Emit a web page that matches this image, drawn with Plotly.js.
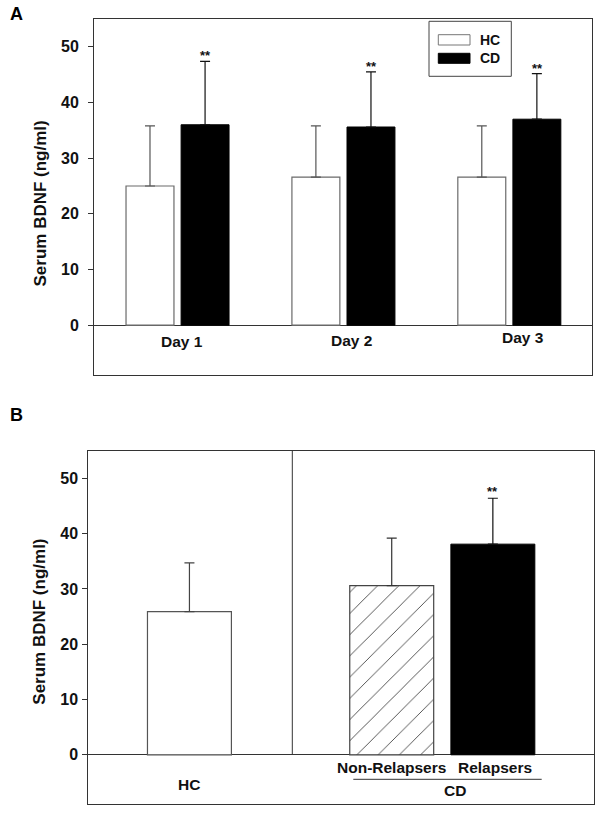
<!DOCTYPE html>
<html>
<head>
<meta charset="utf-8">
<script src="https://cdn.plot.ly/plotly-3.0.1.min.js"></script>
<style>
  html, body { margin: 0; padding: 0; background: #ffffff; }
  #chart { width: 605px; height: 816px; }
</style>
</head>
<body>
<div id="chart"></div>
<script>
// ---------- data ----------
const days = ['Day 1', 'Day 2', 'Day 3'];
const hcMean = [25.0, 26.6, 26.6];
const hcSD = [10.8, 9.2, 9.2];
const cdMean = [36.0, 35.6, 37.0];
const cdSD = [11.4, 9.9, 8.2];
const sigA = ['**', '**', '**'];

const groupsB = ['HC', 'Non-Relapsers', 'Relapsers'];
const meansB = [25.9, 30.6, 38.1];
const sdB = [8.8, 8.6, 8.3];
const sigB = ['', '', '**'];

const yTicks = [0, 10, 20, 30, 40, 50];
const yTitle = 'Serum BDNF (ng/ml)';
const legendNames = ['HC', 'CD'];
const sectionB = 'CD';

// ---------- helpers ----------
const W = 605, H = 816;
const px = x => x / W;
const py = y => 1 - y / H;
const FAM = 'Liberation Sans, Arial, Helvetica, sans-serif';
const bold = (size, color) => ({ family: FAM, size: size, color: color || '#111', weight: 'bold' });
const zeros = a => a.map(() => 0);

// ---------- traces ----------
const traces = [
  {
    type: 'bar', x: days, y: hcMean, xaxis: 'x', yaxis: 'y', name: legendNames[0],
    width: 0.289, offset: -0.307,
    marker: { color: '#ffffff', line: { color: '#6a6a6a', width: 1.2 } },
    error_y: { type: 'data', array: hcSD, arrayminus: zeros(hcSD), symmetric: false,
               color: '#555555', thickness: 1.2, width: 5 },
    showlegend: false, hoverinfo: 'skip'
  },
  {
    type: 'bar', x: days, y: cdMean, xaxis: 'x', yaxis: 'y', name: legendNames[1],
    width: 0.289, offset: 0.025,
    marker: { color: '#000000', line: { color: '#000000', width: 1 } },
    error_y: { type: 'data', array: cdSD, arrayminus: zeros(cdSD), symmetric: false,
               color: '#111111', thickness: 1.2, width: 5 },
    showlegend: false, hoverinfo: 'skip'
  },
  {
    type: 'bar', x: [groupsB[0]], y: [meansB[0]], xaxis: 'x2', yaxis: 'y2',
    width: 0.83,
    marker: { color: '#ffffff', line: { color: '#555555', width: 1.2 } },
    error_y: { type: 'data', array: [sdB[0]], arrayminus: [0], symmetric: false,
               color: '#444444', thickness: 1.2, width: 5 },
    showlegend: false, hoverinfo: 'skip'
  },
  {
    type: 'bar', x: [groupsB[1]], y: [meansB[1]], xaxis: 'x2', yaxis: 'y2',
    width: 0.83,
    marker: { color: '#ffffff', line: { color: '#444444', width: 1.2 },
              pattern: { shape: '/', size: 15, solidity: 0.06, fgcolor: '#444444', bgcolor: '#ffffff', fillmode: 'replace' } },
    error_y: { type: 'data', array: [sdB[1]], arrayminus: [0], symmetric: false,
               color: '#333333', thickness: 1.2, width: 5 },
    showlegend: false, hoverinfo: 'skip'
  },
  {
    type: 'bar', x: [groupsB[2]], y: [meansB[2]], xaxis: 'x2', yaxis: 'y2',
    width: 0.83,
    marker: { color: '#000000', line: { color: '#000000', width: 1 } },
    error_y: { type: 'data', array: [sdB[2]], arrayminus: [0], symmetric: false,
               color: '#111111', thickness: 1.2, width: 5 },
    showlegend: false, hoverinfo: 'skip'
  }
];

// ---------- axes ----------
const yAxisBase = {
  range: [-8.95, 55], tickvals: yTicks, ticktext: yTicks.map(String),
  ticks: 'outside', ticklen: 5, tickwidth: 1, tickcolor: '#333333',
  showline: true, linecolor: '#333333', linewidth: 1, mirror: true,
  showgrid: false, zeroline: true, zerolinecolor: '#333333', zerolinewidth: 1,
  tickfont: bold(16, '#111111'), fixedrange: true
};
const xAxisBase = {
  type: 'category', showline: true, linecolor: '#333333', linewidth: 1, mirror: true,
  showgrid: false, zeroline: false, ticks: '', showticklabels: false, fixedrange: true
};

const layout = {
  width: W, height: H,
  margin: { l: 0, r: 0, t: 0, b: 0, pad: 0 },
  paper_bgcolor: '#ffffff', plot_bgcolor: '#ffffff',
  barmode: 'overlay',
  showlegend: false,
  xaxis: Object.assign({}, xAxisBase, {
    domain: [px(94), px(591.7)], anchor: 'y',
    categoryorder: 'array', categoryarray: days, range: [-0.5, 2.5]
  }),
  yaxis: Object.assign({}, yAxisBase, {
    domain: [py(375), py(19)], anchor: 'x', ticklabelstandoff: 6
  }),
  xaxis2: Object.assign({}, xAxisBase, {
    domain: [px(88.3), px(594)], anchor: 'y2',
    categoryorder: 'array', categoryarray: [groupsB[0], ' ', groupsB[1], groupsB[2]], range: [-1, 4]
  }),
  yaxis2: Object.assign({}, yAxisBase, {
    domain: [py(804.3), py(450.7)], anchor: 'x2', ticklabelstandoff: 1
  }),
  shapes: [],
  annotations: []
};

// panel letters
layout.annotations.push(
  { text: 'A', xref: 'paper', yref: 'paper', x: px(16.3), y: py(14.2), showarrow: false,
    xanchor: 'center', yanchor: 'middle', font: bold(18, '#000') },
  { text: 'B', xref: 'paper', yref: 'paper', x: px(16.3), y: py(414.8), showarrow: false,
    xanchor: 'center', yanchor: 'middle', font: bold(18, '#000') }
);

// y titles
layout.annotations.push(
  { text: yTitle, xref: 'paper', yref: 'paper', x: px(40), y: py(203.5), textangle: -90,
    showarrow: false, xanchor: 'center', yanchor: 'middle', font: bold(17, '#111') },
  { text: yTitle, xref: 'paper', yref: 'paper', x: px(38.7), y: py(622), textangle: -90,
    showarrow: false, xanchor: 'center', yanchor: 'middle', font: bold(17, '#111') }
);

// panel A category labels
const dayShift = [5, 9, 14];
const dayY = [341.7, 340, 337.8];
days.forEach((d, i) => {
  layout.annotations.push({
    text: d, xref: 'x', yref: 'paper', x: d, y: py(dayY[i]), xshift: dayShift[i],
    showarrow: false, xanchor: 'center', yanchor: 'middle', font: bold(15.5, '#111')
  });
});

// significance stars panel A (above CD error bars)
days.forEach((d, i) => {
  if (!sigA[i]) return;
  layout.annotations.push({
    text: sigA[i], xref: 'x', yref: 'y', x: d, y: cdMean[i] + cdSD[i], xshift: 28.5, yshift: -4,
    showarrow: false, xanchor: 'center', yanchor: 'bottom', font: bold(13, '#111')
  });
});

// panel B labels
layout.annotations.push(
  { text: groupsB[0], xref: 'x2', yref: 'paper', x: groupsB[0], y: py(784), showarrow: false,
    xanchor: 'center', yanchor: 'middle', font: bold(15.5, '#111') },
  { text: groupsB[1], xref: 'x2', yref: 'paper', x: groupsB[1], y: py(767.7), showarrow: false,
    xanchor: 'center', yanchor: 'middle', font: bold(15.5, '#111') },
  { text: groupsB[2], xref: 'x2', yref: 'paper', x: groupsB[2], y: py(767.7), xshift: 2, showarrow: false,
    xanchor: 'center', yanchor: 'middle', font: bold(15.5, '#111') },
  { text: sectionB, xref: 'paper', yref: 'paper', x: px(455), y: py(790.5), showarrow: false,
    xanchor: 'center', yanchor: 'middle', font: bold(15.5, '#111') }
);
groupsB.forEach((g, i) => {
  if (!sigB[i]) return;
  layout.annotations.push({
    text: sigB[i], xref: 'x2', yref: 'y2', x: g, y: meansB[i] + sdB[i], yshift: -3,
    showarrow: false, xanchor: 'center', yanchor: 'bottom', font: bold(13, '#111')
  });
});

// panel B divider and CD underline
layout.shapes.push(
  { type: 'line', xref: 'paper', yref: 'paper', x0: px(292.3), x1: px(292.3), y0: py(754.7), y1: py(450.7),
    line: { color: '#333333', width: 1 } },
  { type: 'line', xref: 'paper', yref: 'paper', x0: px(353.3), x1: px(541.7), y0: py(779.3), y1: py(779.3),
    line: { color: '#333333', width: 1 } }
);

// legend panel A (drawn)
layout.shapes.push(
  { type: 'rect', xref: 'paper', yref: 'paper', x0: px(429), x1: px(511.3), y0: py(76.3), y1: py(21.3),
    line: { color: '#444444', width: 1 }, fillcolor: '#ffffff' },
  { type: 'rect', xref: 'paper', yref: 'paper', x0: px(438.3), x1: px(470), y0: py(45), y1: py(34.7),
    line: { color: '#777777', width: 1 }, fillcolor: '#ffffff' },
  { type: 'rect', xref: 'paper', yref: 'paper', x0: px(438.3), x1: px(470), y0: py(63.3), y1: py(53.3),
    line: { color: '#000000', width: 1 }, fillcolor: '#000000' }
);
layout.annotations.push(
  { text: legendNames[0], xref: 'paper', yref: 'paper', x: px(477.5), y: py(40.3), showarrow: false,
    xanchor: 'left', yanchor: 'middle', font: bold(14, '#111') },
  { text: legendNames[1], xref: 'paper', yref: 'paper', x: px(477.5), y: py(58.5), showarrow: false,
    xanchor: 'left', yanchor: 'middle', font: bold(14, '#111') }
);

Plotly.newPlot('chart', traces, layout, { displayModeBar: false, staticPlot: true });
</script>
</body>
</html>
